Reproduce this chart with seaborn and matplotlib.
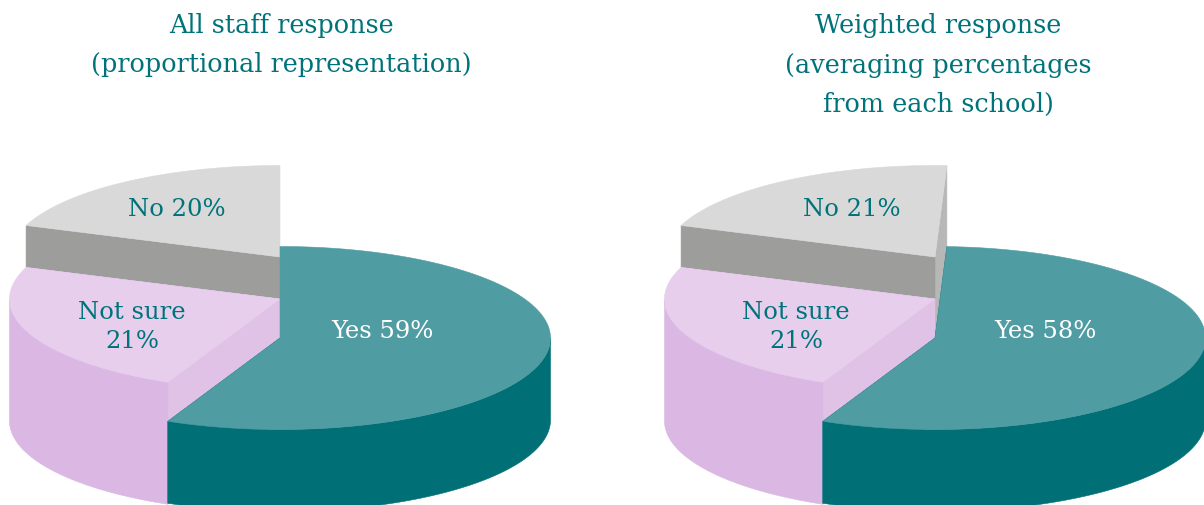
import numpy as np
import matplotlib
matplotlib.use("Agg")
import matplotlib.pyplot as plt
import seaborn as sns

# what the labels say
categories = ["Yes", "Not sure", "No"]
staff_pct = [59, 21, 20]
weighted_pct = [58, 21, 21]

# share of the disc each slice really takes up in the picture
staff_drawn = [56.8, 23.8, 19.4]
weighted_drawn = [56.1, 23.8, 20.1]
staff_start = 0.0
weighted_start = 0.7

staff_title = "All staff response\n(proportional representation)"
weighted_title = "Weighted response\n(averaging percentages\nfrom each school)"

sns.set_theme(style="white")
plt.rcParams["font.family"] = ["DejaVu Serif"]

TEAL_TEXT = "#00737A"
top_colors = sns.color_palette(["#4F9CA3", "#E6CEEC", "#D9D9D9"])
wall_colors = sns.color_palette(["#006F76", "#DAB8E3", "#9D9D9C"])
start_cut_colors = sns.color_palette(["#006F76", "#DFC2E6", "#B7B7B7"])
end_cut_colors = sns.color_palette(["#006F76", "#DFC2E6", "#9D9D9C"])

RX, RY = 270.5, 91.5
center_y = [338, 299, 257]   # each slice sits on a taller step
depth = [82, 122, 162]


def rim(cx, cy, a0, a1, n=120):
    t = np.radians(np.linspace(a0, a1, n))
    return cx + RX * np.sin(t), cy - RY * np.cos(t)


def shape(ax, xs, ys, color):
    ax.fill(xs, ys, color=color, lw=0.4, zorder=2)


def cut_face(ax, cx, cy, d, angle, color):
    x, y = rim(cx, cy, angle, angle, 1)
    # a face seen exactly edge-on has no area, skip it
    if abs(x[0] - cx) < 0.5:
        return
    shape(ax, [cx, x[0], x[0], cx], [cy, y[0], y[0] + d, cy + d], color)


def draw_pie(ax, cx, drawn, start):
    angles = start * 3.6 + np.cumsum([0] + list(drawn)) * 3.6
    # back to front, so the No step first
    for i in [2, 1, 0]:
        a0, a1 = angles[i], angles[i + 1]
        cy, d = center_y[i], depth[i]
        cut_face(ax, cx, cy, d, a1, start_cut_colors[i])
        cut_face(ax, cx, cy, d, a0, end_cut_colors[i])
        w0, w1 = max(a0, 90), min(a1, 270)
        if w1 > w0:
            x, y = rim(cx, cy, w0, w1)
            shape(ax, np.r_[x, x[::-1]], np.r_[y, y[::-1] + d], wall_colors[i])
        x, y = rim(cx, cy, a0, a1)
        shape(ax, np.r_[cx, x], np.r_[cy, y], top_colors[i])


fig = plt.figure(figsize=(12.04, 5.05), dpi=100)
ax = fig.add_axes([0, 0, 1, 1])
ax.set_xlim(0, 1204)
ax.set_ylim(505, 0)
ax.axis("off")

draw_pie(ax, 280, staff_drawn, staff_start)
draw_pie(ax, 935, weighted_drawn, weighted_start)

title_style = dict(ha="center", va="center", color=TEAL_TEXT, fontsize=18.4, linespacing=1.73)
ax.text(281.5, 45, staff_title, **title_style)
ax.text(938, 65, weighted_title, **title_style)

label_style = dict(ha="center", va="center", fontsize=17.5, linespacing=1.3)
for vals, pos in [(staff_pct, [(382, 331), (132, 327), (177, 209)]),
                  (weighted_pct, [(1045, 331), (796, 327), (852, 209)])]:
    ax.text(*pos[0], f"{categories[0]} {vals[0]}%", color="white", **label_style)
    ax.text(*pos[1], f"{categories[1]}\n{vals[1]}%", color=TEAL_TEXT, **label_style)
    ax.text(*pos[2], f"{categories[2]} {vals[2]}%", color=TEAL_TEXT, **label_style)

fig.savefig("out.png", dpi=100, facecolor="white")
